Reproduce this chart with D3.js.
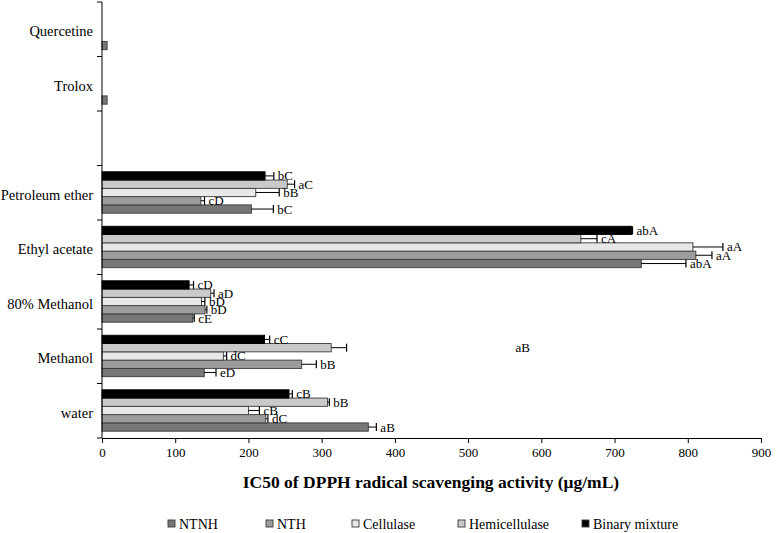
<!DOCTYPE html>
<html><head><meta charset="utf-8">
<script src="https://cdn.jsdelivr.net/npm/d3@7/dist/d3.min.js"></script>
<style>body{margin:0;background:#fff}svg{display:block}text{font-family:"Liberation Serif","Times New Roman",serif;fill:#000}</style>
</head><body><svg id="c" width="777" height="533"></svg>
<script>
const categories = ["Quercetine","Trolox"," ","Petroleum ether","Ethyl acetate","80% Methanol","Methanol","water"];
const seriesNames = ["NTNH","NTH","Cellulase","Hemicellulase","Binary mixture"];
const xTicks = [0,100,200,300,400,500,600,700,800,900];

const ntnh      = [7, 7, null, 204, 736.5, 124, 139.7, 363.7];
const nth       = [null, null, null, 135, 811, 140.7, 272.7, 223.6];
const cellulase = [null, null, null, 210, 807, 136, 165.7, 200];
const hemicell  = [null, null, null, 253, 654, 148.5, 313, 308];
const binary    = [null, null, null, 222.7, 723.5, 119, 222, 255.4];

const ntnhErr   = [null, null, null, 30, 61, 2, 16, 11];
const nthErr    = [null, null, null, 5, 22, 2.5, 20, 3];
const cellErr   = [null, null, null, 32, 41, 4.5, 4.5, 15];
const hemiErr   = [null, null, null, 10, 22, 4.5, 21, 2.5];
const binErr    = [null, null, null, 12, 1, 6, 7, 4.5];

const ntnhLab   = [null, null, null, "bC", "abA", "cE", "eD", "aB"];
const nthLab    = [null, null, null, "cD", "aA", "bD", "bB", "dC"];
const cellLab   = [null, null, null, "bB", "aA", "bD", "dC", "cB"];
const hemiLab   = [null, null, null, "aC", "cA", "aD", "aB", "bB"];
const binLab    = [null, null, null, "bC", "abA", "cD", "cC", "cB"];

const seriesValues = [ntnh, nth, cellulase, hemicell, binary];
const seriesErrs = [ntnhErr, nthErr, cellErr, hemiErr, binErr];
const seriesLabs = [ntnhLab, nthLab, cellLab, hemiLab, binLab];
const colors = ["#777777","#9c9c9c","#e8e8e8","#cacaca","#000000"];

const svg = d3.select("#c");
const x = d3.scaleLinear().domain([0,900]).range([102,761]);
const y = d3.scaleBand().domain(categories).range([2,438]).padding(0);
const bw = y.bandwidth();
const inner = d3.scaleBand().domain(seriesNames.slice().reverse()).range([bw*0.115, bw*0.875]).padding(0);

const rows = [];
seriesNames.forEach((s,si)=>{
  categories.forEach((c,ci)=>{
    const v = seriesValues[si][ci];
    if (v==null) return;
    rows.push({s, si, c, v, e: seriesErrs[si][ci], lab: seriesLabs[si][ci]});
  });
});

const g = svg.append("g");
g.selectAll("rect.bar").data(rows).join("rect").attr("class","bar")
  .attr("x", x(0)).attr("y", d=>y(d.c)+inner(d.s))
  .attr("width", d=>x(d.v)-x(0)).attr("height", inner.bandwidth())
  .attr("fill", d=>colors[d.si]).attr("stroke", d=>d.si===4?"#000":"#3a3a3a").attr("stroke-width",0.9);

const er = rows.filter(d=>d.e!=null);
const cy = d=>y(d.c)+inner(d.s)+inner.bandwidth()/2;
g.selectAll("line.eb").data(er).join("line").attr("class","eb")
  .attr("x1", d=>x(d.v)).attr("x2", d=>x(d.v+d.e)).attr("y1", cy).attr("y2", cy)
  .attr("stroke","#000").attr("stroke-width",1);
g.selectAll("line.cap").data(er).join("line").attr("class","cap")
  .attr("x1", d=>x(d.v+d.e)).attr("x2", d=>x(d.v+d.e))
  .attr("y1", d=>cy(d)-4).attr("y2", d=>cy(d)+4)
  .attr("stroke","#000").attr("stroke-width",1.2);

const nudge = {"Methanol|Hemicellulase": 165};
g.selectAll("text.lab").data(er.filter(d=>d.lab)).join("text").attr("class","lab")
  .attr("x", d=>x(d.v+d.e)+4+(nudge[d.c+"|"+d.s]||0)).attr("y", d=>cy(d)+4.5)
  .attr("font-size",13).text(d=>d.lab);

// Y axis
svg.append("line").attr("x1",102).attr("x2",102).attr("y1",2).attr("y2",438).attr("stroke","#000");
const yb = categories.map(c=>y(c)).concat([438]);
svg.selectAll("line.yt").data(yb).join("line").attr("class","yt")
  .attr("x1",97).attr("x2",102).attr("y1",d=>d).attr("y2",d=>d).attr("stroke","#000");
svg.selectAll("text.cat").data(categories).join("text").attr("class","cat")
  .attr("x",93).attr("y",d=>y(d)+bw/2+7).attr("text-anchor","end").attr("font-size",14.5).text(d=>d.trim());

// X axis
const xa = svg.append("g").attr("transform","translate(0,438)")
  .call(d3.axisBottom(x).tickValues(xTicks).tickSize(5).tickSizeOuter(0).tickPadding(5));
xa.select(".domain").attr("stroke","#000");
xa.selectAll(".tick line").attr("stroke","#000");
xa.selectAll(".tick text").attr("font-size",13).attr("font-family",'"Liberation Serif","Times New Roman",serif').attr("fill","#000");

svg.append("text").attr("x",431).attr("y",488).attr("text-anchor","middle")
  .attr("font-size",17.5).attr("font-weight","bold").text("IC50 of DPPH radical scavenging activity (μg/mL)");

// Legend
const legX = [168,266,352,458,582];
const lg = svg.selectAll("g.leg").data(seriesNames).join("g").attr("class","leg")
  .attr("transform",(d,i)=>`translate(${legX[i]},520)`);
lg.append("rect").attr("width",7).attr("height",7).attr("fill",(d,i)=>colors[i]).attr("stroke","#3a3a3a").attr("stroke-width",0.9);
lg.append("text").attr("x",11).attr("y",9).attr("font-size",14).text(d=>d);
</script></body></html>
